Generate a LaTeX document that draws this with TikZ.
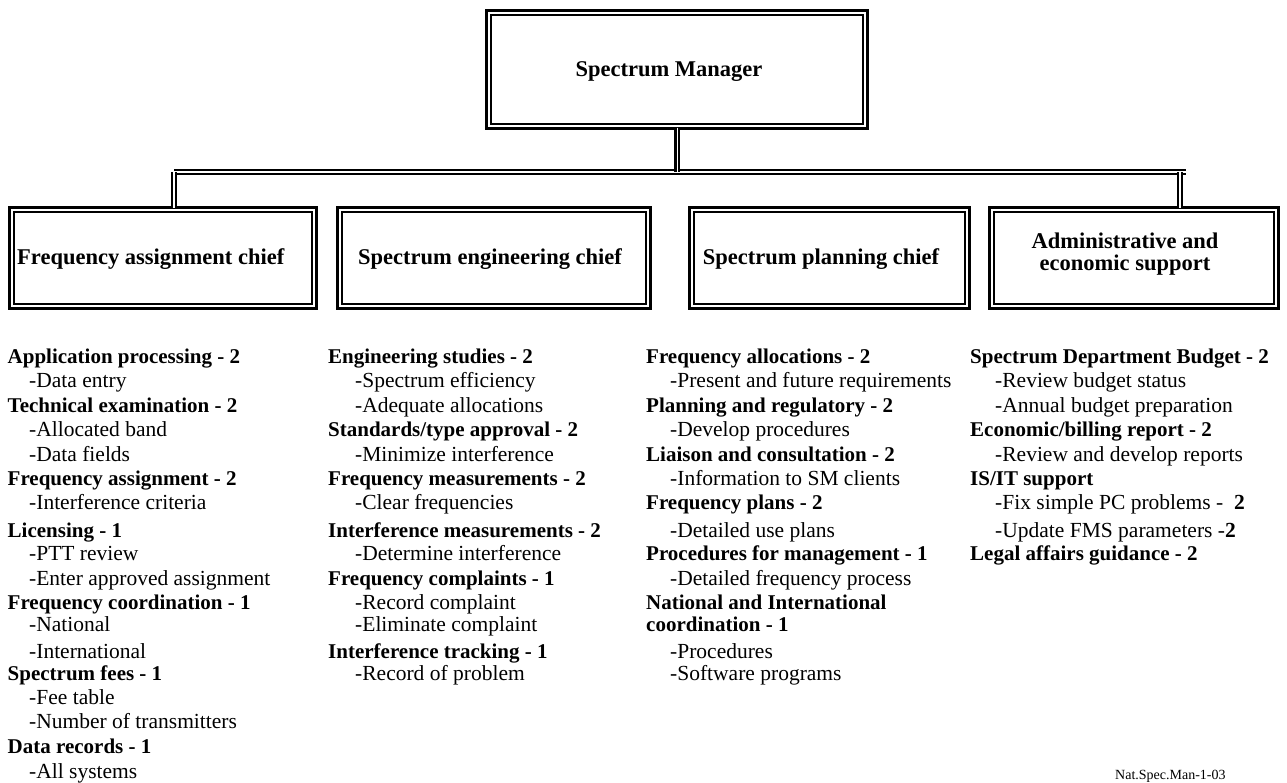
\documentclass[tikz,border=0pt]{standalone}
\usepackage{fontspec}
\setmainfont{Liberation Serif}
\begin{document}
\begin{tikzpicture}[x=1pt,y=-1pt,
  dbox/.style={draw, line width=2.6pt, double, double distance=2.2pt, inner sep=0pt,
               minimum height=96.6pt},
  boxlbl/.style={font=\fontsize{22.5}{22}\selectfont\bfseries, inner sep=0pt, align=center},
  hd/.style={anchor=base west, inner sep=0pt, font=\fontsize{21}{24}\selectfont\bfseries},
  it/.style={anchor=base west, inner sep=0pt, font=\fontsize{21.5}{24}\selectfont},
  vconn/.style={draw, line width=2.7pt, double, double distance=0.9pt},
  hconn/.style={draw, line width=2.2pt, double, double distance=2.2pt},
  dconn/.style={draw, line width=2pt, double, double distance=2pt}]
\useasboundingbox (0,0) rectangle (1287,782);

% boxes
\node[dbox, minimum width=376.6pt, minimum height=113.6pt] (mgr) at (677,69.5) {};
\node[boxlbl] (mgrl) at (669,72) {Spectrum Manager};
\node[dbox, minimum width=302.6pt] (b1) at (163,258) {};
\node[dbox, minimum width=308.6pt] (b2) at (494,258) {};
\node[dbox, minimum width=275.6pt] (b3) at (829.5,258) {};
\node[dbox, minimum width=284.6pt] (b4) at (1134,258) {};
\node[boxlbl, anchor=west] (b1l) at (17,259) {Frequency assignment chief};
\node[boxlbl] (b2l) at (490,259) {Spectrum engineering chief};
\node[boxlbl] (b3l) at (821,259) {Spectrum planning chief};
\node[boxlbl] (b4l) at (1125,254) {Administrative and\\economic support};

% connectors
\coordinate (busL) at (174,172);
\coordinate (busR) at (1186,172);
\coordinate (dropR) at (1180,172);
\draw[hconn] (busL) -- (busR);
\draw[vconn] (mgr.south) -- (mgr.south |- busL);
\draw[dconn] (busL) -- (busL |- b1.north);
\draw[dconn] (dropR) -- (dropR |- b4.north);

% column 1
\node[hd] (a0) at (7.5,363) {Application processing - 2};
\node[it] (a1) at (29,387) {-Data entry};
\node[hd] (a2) at (7.5,412) {Technical examination - 2};
\node[it] (a3) at (29,436) {-Allocated band};
\node[it] (a4) at (29,461) {-Data fields};
\node[hd] (a5) at (7.5,485) {Frequency assignment - 2};
\node[it] (a6) at (29,509) {-Interference criteria};
\node[hd] (a7) at (7.5,537) {Licensing - 1};
\node[it] (a8) at (29,560) {-PTT review};
\node[it] (a9) at (29,585) {-Enter approved assignment};
\node[hd] (a10) at (7.5,609) {Frequency coordination - 1};
\node[it] (a11) at (29,631) {-National};
\node[it] (a12) at (29,658) {-International};
\node[hd] (a13) at (7.5,680) {Spectrum fees - 1};
\node[it] (a14) at (29,704) {-Fee table};
\node[it] (a15) at (29,728) {-Number of transmitters};
\node[hd] (a16) at (7.5,753) {Data records - 1};
\node[it] (a17) at (29,778) {-All systems};

% column 2
\node[hd] (e0) at (328,363) {Engineering studies - 2};
\node[it] (e1) at (355,387) {-Spectrum efficiency};
\node[it] (e2) at (355,412) {-Adequate allocations};
\node[hd] (e3) at (328,436) {Standards/type approval - 2};
\node[it] (e4) at (355,461) {-Minimize interference};
\node[hd] (e5) at (328,485) {Frequency measurements - 2};
\node[it] (e6) at (355,509) {-Clear frequencies};
\node[hd] (e7) at (328,537) {Interference measurements - 2};
\node[it] (e8) at (355,560) {-Determine interference};
\node[hd] (e9) at (328,585) {Frequency complaints - 1};
\node[it] (e10) at (355,609) {-Record complaint};
\node[it] (e11) at (355,631) {-Eliminate complaint};
\node[hd] (e12) at (328,658) {Interference tracking - 1};
\node[it] (e13) at (355,680) {-Record of problem};

% column 3
\node[hd] (p0) at (646,363) {Frequency allocations - 2};
\node[it] (p1) at (670,387) {-Present and future requirements};
\node[hd] (p2) at (646,412) {Planning and regulatory - 2};
\node[it] (p3) at (670,436) {-Develop procedures};
\node[hd] (p4) at (646,461) {Liaison and consultation - 2};
\node[it] (p5) at (670,485) {-Information to SM clients};
\node[hd] (p6) at (646,509) {Frequency plans - 2};
\node[it] (p7) at (670,537) {-Detailed use plans};
\node[hd] (p8) at (646,560) {Procedures for management - 1};
\node[it] (p9) at (670,585) {-Detailed frequency process};
\node[hd] (p10) at (646,609) {National and International};
\node[hd] (p11) at (646,631) {coordination - 1};
\node[it] (p12) at (670,658) {-Procedures};
\node[it] (p13) at (670,680) {-Software programs};

% column 4
\node[hd] (s0) at (970,363) {Spectrum Department Budget - 2};
\node[it] (s1) at (995,387) {-Review budget status};
\node[it] (s2) at (995,412) {-Annual budget preparation};
\node[hd] (s3) at (970,436) {Economic/billing report - 2};
\node[it] (s4) at (995,461) {-Review and develop reports};
\node[hd] (s5) at (970,485) {IS/IT support};
\node[it] (s6) at (995,509) {-Fix simple PC problems -\ \ \textbf{2}};
\node[it] (s7) at (995,537) {-Update FMS parameters -\textbf{2}};
\node[hd] (s8) at (970,560) {Legal affairs guidance - 2};

% footer
\node[anchor=base west, inner sep=0pt, font=\fontsize{14}{15}\selectfont] (foot) at (1115,779) {Nat.Spec.Man-1-03};
\end{tikzpicture}
\end{document}
